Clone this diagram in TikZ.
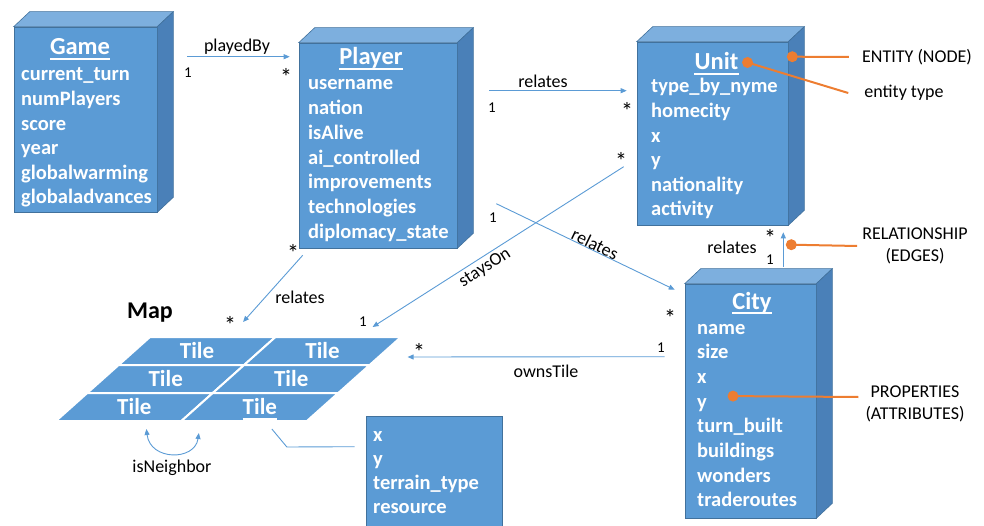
\documentclass[tikz,border=0pt]{standalone}
\usepackage{fontspec}
\setmainfont{Carlito}
\usetikzlibrary{arrows.meta,calc}
\definecolor{boxfront}{HTML}{5B9BD5}
\definecolor{boxtop}{HTML}{7DAFDE}
\definecolor{boxside}{HTML}{4A80B8}
\definecolor{boxline}{HTML}{41719C}
\definecolor{linkblue}{HTML}{5B9BD5}
\definecolor{notecol}{HTML}{ED7D31}

\tikzset{
  entity/.style={fill=boxfront, draw=boxline, line width=0.6pt, inner sep=0pt},
  ename/.style={text=white, anchor=base, inner sep=0pt, font=\fontsize{24.5}{28}\selectfont\bfseries},
  attr/.style={text=white, anchor=base west, inner sep=0pt, font=\fontsize{20.5}{24}\selectfont\bfseries},
  tiletxt/.style={text=white, inner sep=0pt, font=\fontsize{23}{26}\selectfont\bfseries},
  link/.style={linkblue, line width=0.9pt, -{Triangle[length=6pt,width=5pt]}},
  lbl/.style={inner sep=0pt, font=\fontsize{18}{21}\selectfont},
  mult/.style={inner sep=0pt, anchor=base, font=\fontsize{15}{17}\selectfont},
  many/.style={inner sep=0pt, anchor=base, font=\fontsize{24}{26}\selectfont},
  note/.style={notecol, line width=2pt},
  notetxt/.style={inner sep=0pt, align=center, font=\fontsize{18}{22}\selectfont},
  uline/.style={white, line width=1.3pt},
}

\begin{document}
\begin{tikzpicture}[x=1pt, y=-1pt]
  \useasboundingbox (0,0) rectangle (984,526);

  % entity boxes (front faces)
  \node[entity, minimum width=143pt, minimum height=185pt] (game) at (85.5,119.5) {};
  \node[entity, minimum width=158pt, minimum height=205pt] (player) at (378,145.5) {};
  \node[entity, minimum width=151pt, minimum height=183pt] (unit) at (712.5,133.5) {};
  \node[entity, minimum width=131pt, minimum height=234pt] (city) at (750.5,401) {};
  \node[entity, minimum width=136pt, minimum height=111pt] (tileprops) at (434,471.5) {};

  % top and side faces
  \foreach \n in {game,player,unit,city} {
    \filldraw[fill=boxtop, draw=boxline, line width=0.6pt] (\n.north west) -- ++(16,-15)
      -- ([shift={(16,-15)}]\n.north east) -- (\n.north east) -- cycle;
    \filldraw[fill=boxside, draw=boxline, line width=0.6pt] (\n.north east) -- ++(16,-15)
      -- ([shift={(16,-15)}]\n.south east) -- (\n.south east) -- cycle;
  }

  % entity names and attributes
  \node[ename] (gametitle) at (80,55) {Game};
  \foreach \a [count=\i] in {current\_turn,numPlayers,score,year,globalwarming,globaladvances}
    \node[attr] (game-\i) at (21,{81+24.6*(\i-1)}) {\a};

  \node[ename] (playertitle) at (371,65) {Player};
  \foreach \a [count=\i] in {username,nation,isAlive,ai\_controlled,improvements,technologies,diplomacy\_state}
    \node[attr] (player-\i) at (308,{90+24.7*(\i-1)}) {\a};

  \node[ename] (unittitle) at (716.5,70) {Unit};
  \foreach \a [count=\i] in {type\_by\_nyme,homecity,x,y,nationality,activity}
    \node[attr] (unit-\i) at (651,{93+24.6*(\i-1)}) {\a};

  \node[ename] (citytitle) at (752,309) {City};
  \foreach \a [count=\i] in {name,size,x,y,turn\_built,buildings,wonders,traderoutes}
    \node[attr] (city-\i) at (697,{334+24.7*(\i-1)}) {\a};

  \foreach \a [count=\i] in {x,y,terrain\_type,resource}
    \node[attr] (prop-\i) at (373,{441+24.3*(\i-1)}) {\a};

  % the map: 3 rows x 2 columns of slanted tiles
  \node[inner sep=0pt, font=\fontsize{24}{28}\selectfont\bfseries] (map) at (150,313) {Map};
  \foreach \r in {0,1,2} {
    \foreach \c in {0,1} {
      \pgfmathsetmacro{\ya}{337+28*\r}
      \pgfmathsetmacro{\xa}{150-31.36*\r+125.5*\c}
      \filldraw[fill=boxfront, draw=white, line width=2pt] (\xa,\ya) -- ++(125.5,0)
        -- ++(-31.36,28) -- ++(-125.5,0) -- cycle;
      \node[tiletxt] (tile\r\c) at ({\xa+47.07},{\ya+14}) {Tile};
    }
  }

  \foreach \n in {gametitle,playertitle,unittitle,citytitle,tile21}
    \draw[uline] ([yshift=-4pt]\n.base west) -- ([yshift=-4pt]\n.base east);

  % relationships
  \draw[link] ([shift={(30,30)}]game.north east) -- ([shift={(-9,14)}]player.north west);
  \node[lbl] (l-played) at (237,47) {playedBy};
  \node[mult] (m1) at (188,78) {1};
  \node[many] (m2) at (286,86) {*};

  \draw[link] ([shift={(32,48)}]player.north east) -- ([shift={(-10,49)}]unit.north west);
  \node[lbl] (l-pu) at (543,81) {relates};
  \node[mult] (m3) at (492,113) {1};
  \node[many] (m4) at (627,120) {*};

  \draw[link] ([shift={(39,161)}]player.north east) -- ([shift={(-10,6)}]city.north west);
  \node[lbl, rotate=-25.7] (l-pc) at (595,244) {relates};
  \node[mult] (m5) at (493,223) {1};
  \node[many] (m6) at (670,326) {*};

  \draw[link] ([shift={(-13,125)}]unit.north west) -- ([shift={(50,-24)}]tile01.center);
  \node[lbl, rotate=32.5] (l-stays) at (485,268) {staysOn};
  \node[many] (m7) at (621,170) {*};
  \node[mult] (m8) at (363,326) {1};

  \draw[link] ([shift={(4,7)}]player.south west) -- ([shift={(46,-29)}]tile00.center);
  \node[lbl] (l-pm) at (300,297) {relates};
  \node[many] (m9) at (293,262) {*};
  \node[many] (m10) at (230,333) {*};

  \draw[link] ([shift={(-20,73)}]city.north west) -- ([shift={(85,6)}]tile01.center);
  \node[lbl] (l-owns) at (546,371) {ownsTile};
  \node[mult] (m11) at (661,352) {1};
  \node[many] (m12) at (419,360) {*};

  \draw[link] ([shift={(-33,-17)}]city.north east) -- ([shift={(-5,7)}]unit.south east);
  \node[lbl] (l-cu) at (732,247) {relates};
  \node[many] (m13) at (770,247) {*};
  \node[mult] (m14) at (770,265) {1};

  \draw[link, {Triangle[length=6pt,width=5pt]}-{Triangle[length=6pt,width=5pt]}]
    ([shift={(12,22)}]tile20.center) .. controls +(4,32) and +(-4,28) .. ([shift={(-61,26)}]tile21.center);
  \node[lbl] (l-neigh) at (172,468) {isNeighbor};

  \draw[linkblue, line width=0.9pt] ([shift={(12,22)}]tile21.center) -- ++(15,18)
    -- ([shift={(-11,31)}]tileprops.north west);

  % legend notes
  \node[notetxt] (entnote) at (917,57) {ENTITY (NODE)};
  \node[notetxt] (typenote) at (904,93) {entity type};
  \node[notetxt] (relnote) at (915,246) {RELATIONSHIP\\(EDGES)};
  \node[notetxt] (propnote) at (915,404) {PROPERTIES\\(ATTRIBUTES)};

  \draw[note] ([shift={(4,15)}]unit.north east) coordinate (dotA) -- ([xshift=-13pt]entnote.west);
  \draw[note] ([shift={(9,1)}]unittitle.east) coordinate (dotB) -- ([xshift=-16pt]typenote.west);
  \draw[note] ([shift={(-25,-39)}]city.north east) coordinate (dotC) -- ([xshift=-5pt]relnote.west);
  \draw[note] ([shift={(36,-12)}]city-4.base west) coordinate (dotD) -- ([shift={(-7,-7)}]propnote.west);
  \foreach \d in {dotA,dotB,dotC,dotD}
    \fill[notecol] (\d) circle (5.5pt);
\end{tikzpicture}
\end{document}
